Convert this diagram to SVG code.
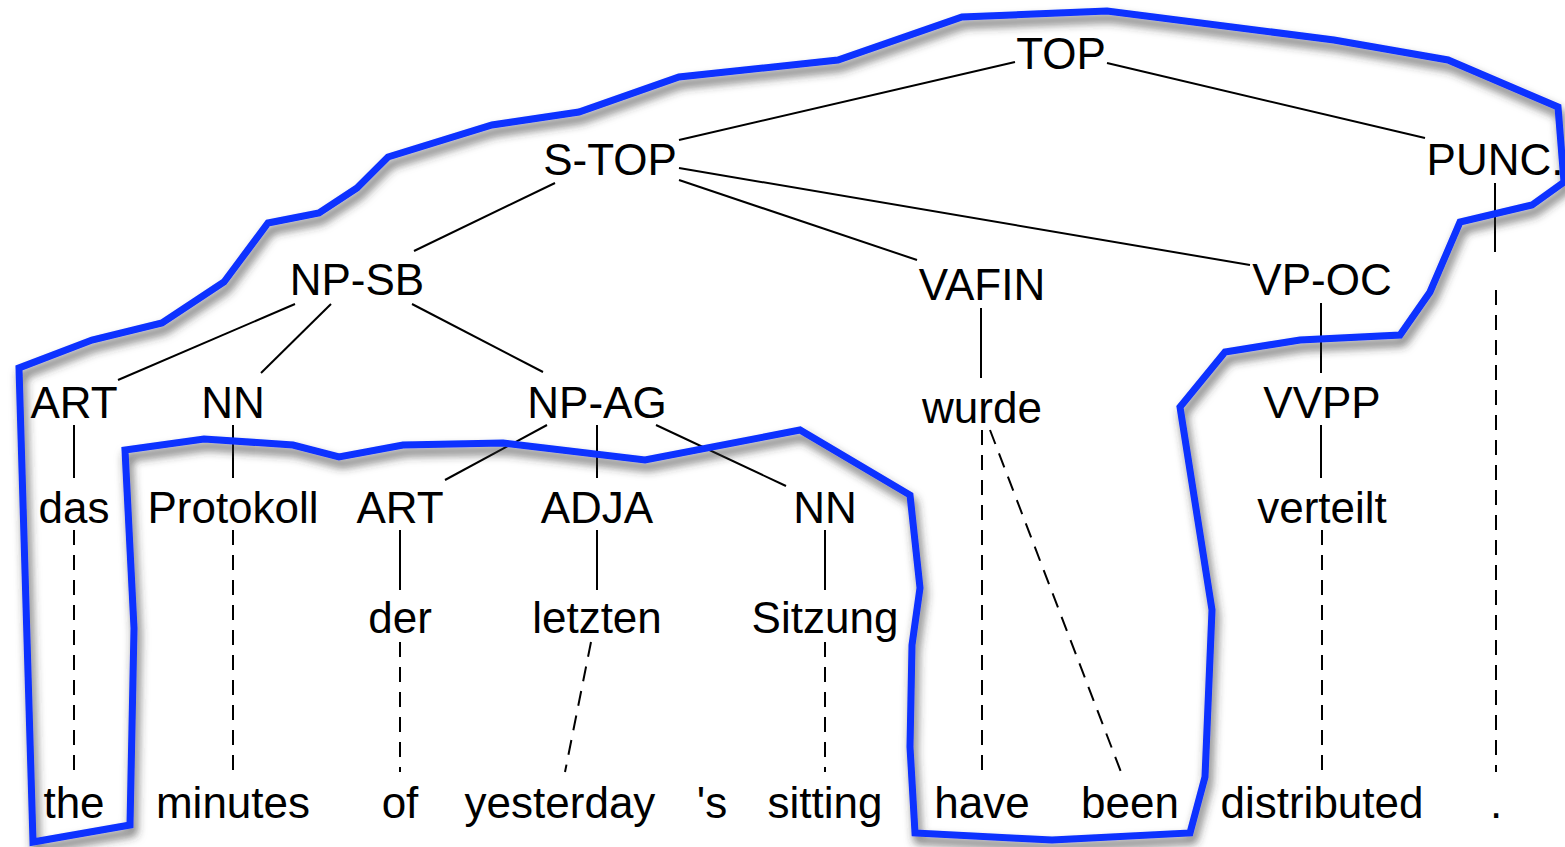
<svg xmlns="http://www.w3.org/2000/svg" width="1565" height="847" viewBox="0 0 1565 847">
  <defs>
    <filter id="shadow" x="-10%" y="-10%" width="120%" height="120%">
      <feDropShadow dx="3" dy="7" stdDeviation="5" flood-color="#333" flood-opacity="0.75"/>
    </filter>
    <style>
      text { font-family: "Liberation Sans", Arial, sans-serif; font-size: 44px; fill: #000; text-anchor: middle; }
      .edge { stroke: #000; stroke-width: 2; fill: none; }
      .align { stroke: #000; stroke-width: 2; fill: none; stroke-dasharray: 15 10; }
      .region { stroke: #0a30ff; stroke-width: 7; fill: none; stroke-linejoin: miter; filter: url(#shadow); }
    </style>
  </defs>
  <rect width="1565" height="847" fill="#fff"/>

  <!-- tree edges and word alignments -->
  <g id="connectors">
    <line class="edge" x1="1015" y1="62" x2="679" y2="140"/>
    <line class="edge" x1="1107" y1="63" x2="1425" y2="138"/>
    <line class="edge" x1="555" y1="183" x2="414" y2="251"/>
    <line class="edge" x1="679" y1="180" x2="917" y2="260"/>
    <line class="edge" x1="679" y1="168" x2="1250" y2="265"/>
    <line class="edge" x1="1495" y1="183" x2="1495" y2="252"/>
    <line class="edge" x1="295" y1="304" x2="118" y2="380"/>
    <line class="edge" x1="331" y1="304" x2="261" y2="373"/>
    <line class="edge" x1="412" y1="304" x2="543" y2="372"/>
    <line class="edge" x1="981" y1="308" x2="981" y2="378"/>
    <line class="edge" x1="1321" y1="303" x2="1321" y2="373"/>
    <line class="edge" x1="74" y1="425" x2="74" y2="478"/>
    <line class="edge" x1="233" y1="425" x2="233" y2="478"/>
    <line class="edge" x1="547" y1="425" x2="445" y2="480"/>
    <line class="edge" x1="597" y1="425" x2="597" y2="478"/>
    <line class="edge" x1="656" y1="425" x2="786" y2="486"/>
    <line class="edge" x1="1321" y1="425" x2="1321" y2="478"/>
    <line class="edge" x1="400" y1="530" x2="400" y2="590"/>
    <line class="edge" x1="597" y1="530" x2="597" y2="590"/>
    <line class="edge" x1="825" y1="530" x2="825" y2="590"/>

    <line class="align" x1="74" y1="530" x2="74" y2="772"/>
    <line class="align" x1="233" y1="530" x2="233" y2="772"/>
    <line class="align" x1="400" y1="642" x2="400" y2="772"/>
    <line class="align" x1="591" y1="642" x2="565" y2="772"/>
    <line class="align" x1="825" y1="642" x2="825" y2="772"/>
    <line class="align" x1="982" y1="430" x2="982" y2="772"/>
    <line class="align" x1="990" y1="430" x2="1121" y2="772"/>
    <line class="align" x1="1322" y1="530" x2="1322" y2="772"/>
    <line class="align" x1="1496" y1="290" x2="1496" y2="772"/>
  </g>

  <!-- blue region outline with drop shadow -->
  <g id="region">
    <path class="region" d="M33,842 L19,368 L92,340 L162,323 L224,282 L268,223 L319,213 L357,188 L388,157 L492,125 L579,112 L679,77 L838,60 L962,17 L1107,11 L1334,40 L1448,60 L1558,107 L1564,182 L1532,205 L1460,222 L1430,292 L1400,335 L1300,340 L1225,352 L1180,407 L1212,610 L1205,777 L1190,833 L1052,840 L915,833 L910,747 L912,645 L920,588 L910,495 L800,430 L645,460 L503,443 L403,445 L339,457 L293,445 L204,439 L125,450 L134,628 L130,825 Z"/>
  </g>

  <!-- tree nodes -->
  <g id="n-top"><text x="1061" y="69">TOP</text></g>
  <g id="n-stop"><text x="610" y="175">S-TOP</text></g>
  <g id="n-punc"><text x="1495" y="175">PUNC.</text></g>
  <g id="n-npsb"><text x="357" y="295">NP-SB</text></g>
  <g id="n-vafin"><text x="982" y="300">VAFIN</text></g>
  <g id="n-vpoc"><text x="1322" y="295">VP-OC</text></g>
  <g id="n-art1"><text x="74" y="418">ART</text></g>
  <g id="n-nn1"><text x="233" y="418">NN</text></g>
  <g id="n-npag"><text x="597" y="418">NP-AG</text></g>
  <g id="n-wurde"><text x="982" y="423">wurde</text></g>
  <g id="n-vvpp"><text x="1322" y="418">VVPP</text></g>
  <g id="n-das"><text x="74" y="523">das</text></g>
  <g id="n-protokoll"><text x="233" y="523">Protokoll</text></g>
  <g id="n-art2"><text x="400" y="523">ART</text></g>
  <g id="n-adja"><text x="597" y="523">ADJA</text></g>
  <g id="n-nn2"><text x="825" y="523">NN</text></g>
  <g id="n-verteilt"><text x="1322" y="523">verteilt</text></g>
  <g id="n-der"><text x="400" y="633">der</text></g>
  <g id="n-letzten"><text x="597" y="633">letzten</text></g>
  <g id="n-sitzung"><text x="825" y="633">Sitzung</text></g>
  <g id="w-the"><text x="74" y="818">the</text></g>
  <g id="w-minutes"><text x="233" y="818">minutes</text></g>
  <g id="w-of"><text x="400" y="818">of</text></g>
  <g id="w-yesterday"><text x="560" y="818">yesterday</text></g>
  <g id="w-s"><text x="712" y="818">'s</text></g>
  <g id="w-sitting"><text x="825" y="818">sitting</text></g>
  <g id="w-have"><text x="982" y="818">have</text></g>
  <g id="w-been"><text x="1130" y="818">been</text></g>
  <g id="w-distributed"><text x="1322" y="818">distributed</text></g>
  <g id="w-period"><text x="1496" y="818">.</text></g>
</svg>
